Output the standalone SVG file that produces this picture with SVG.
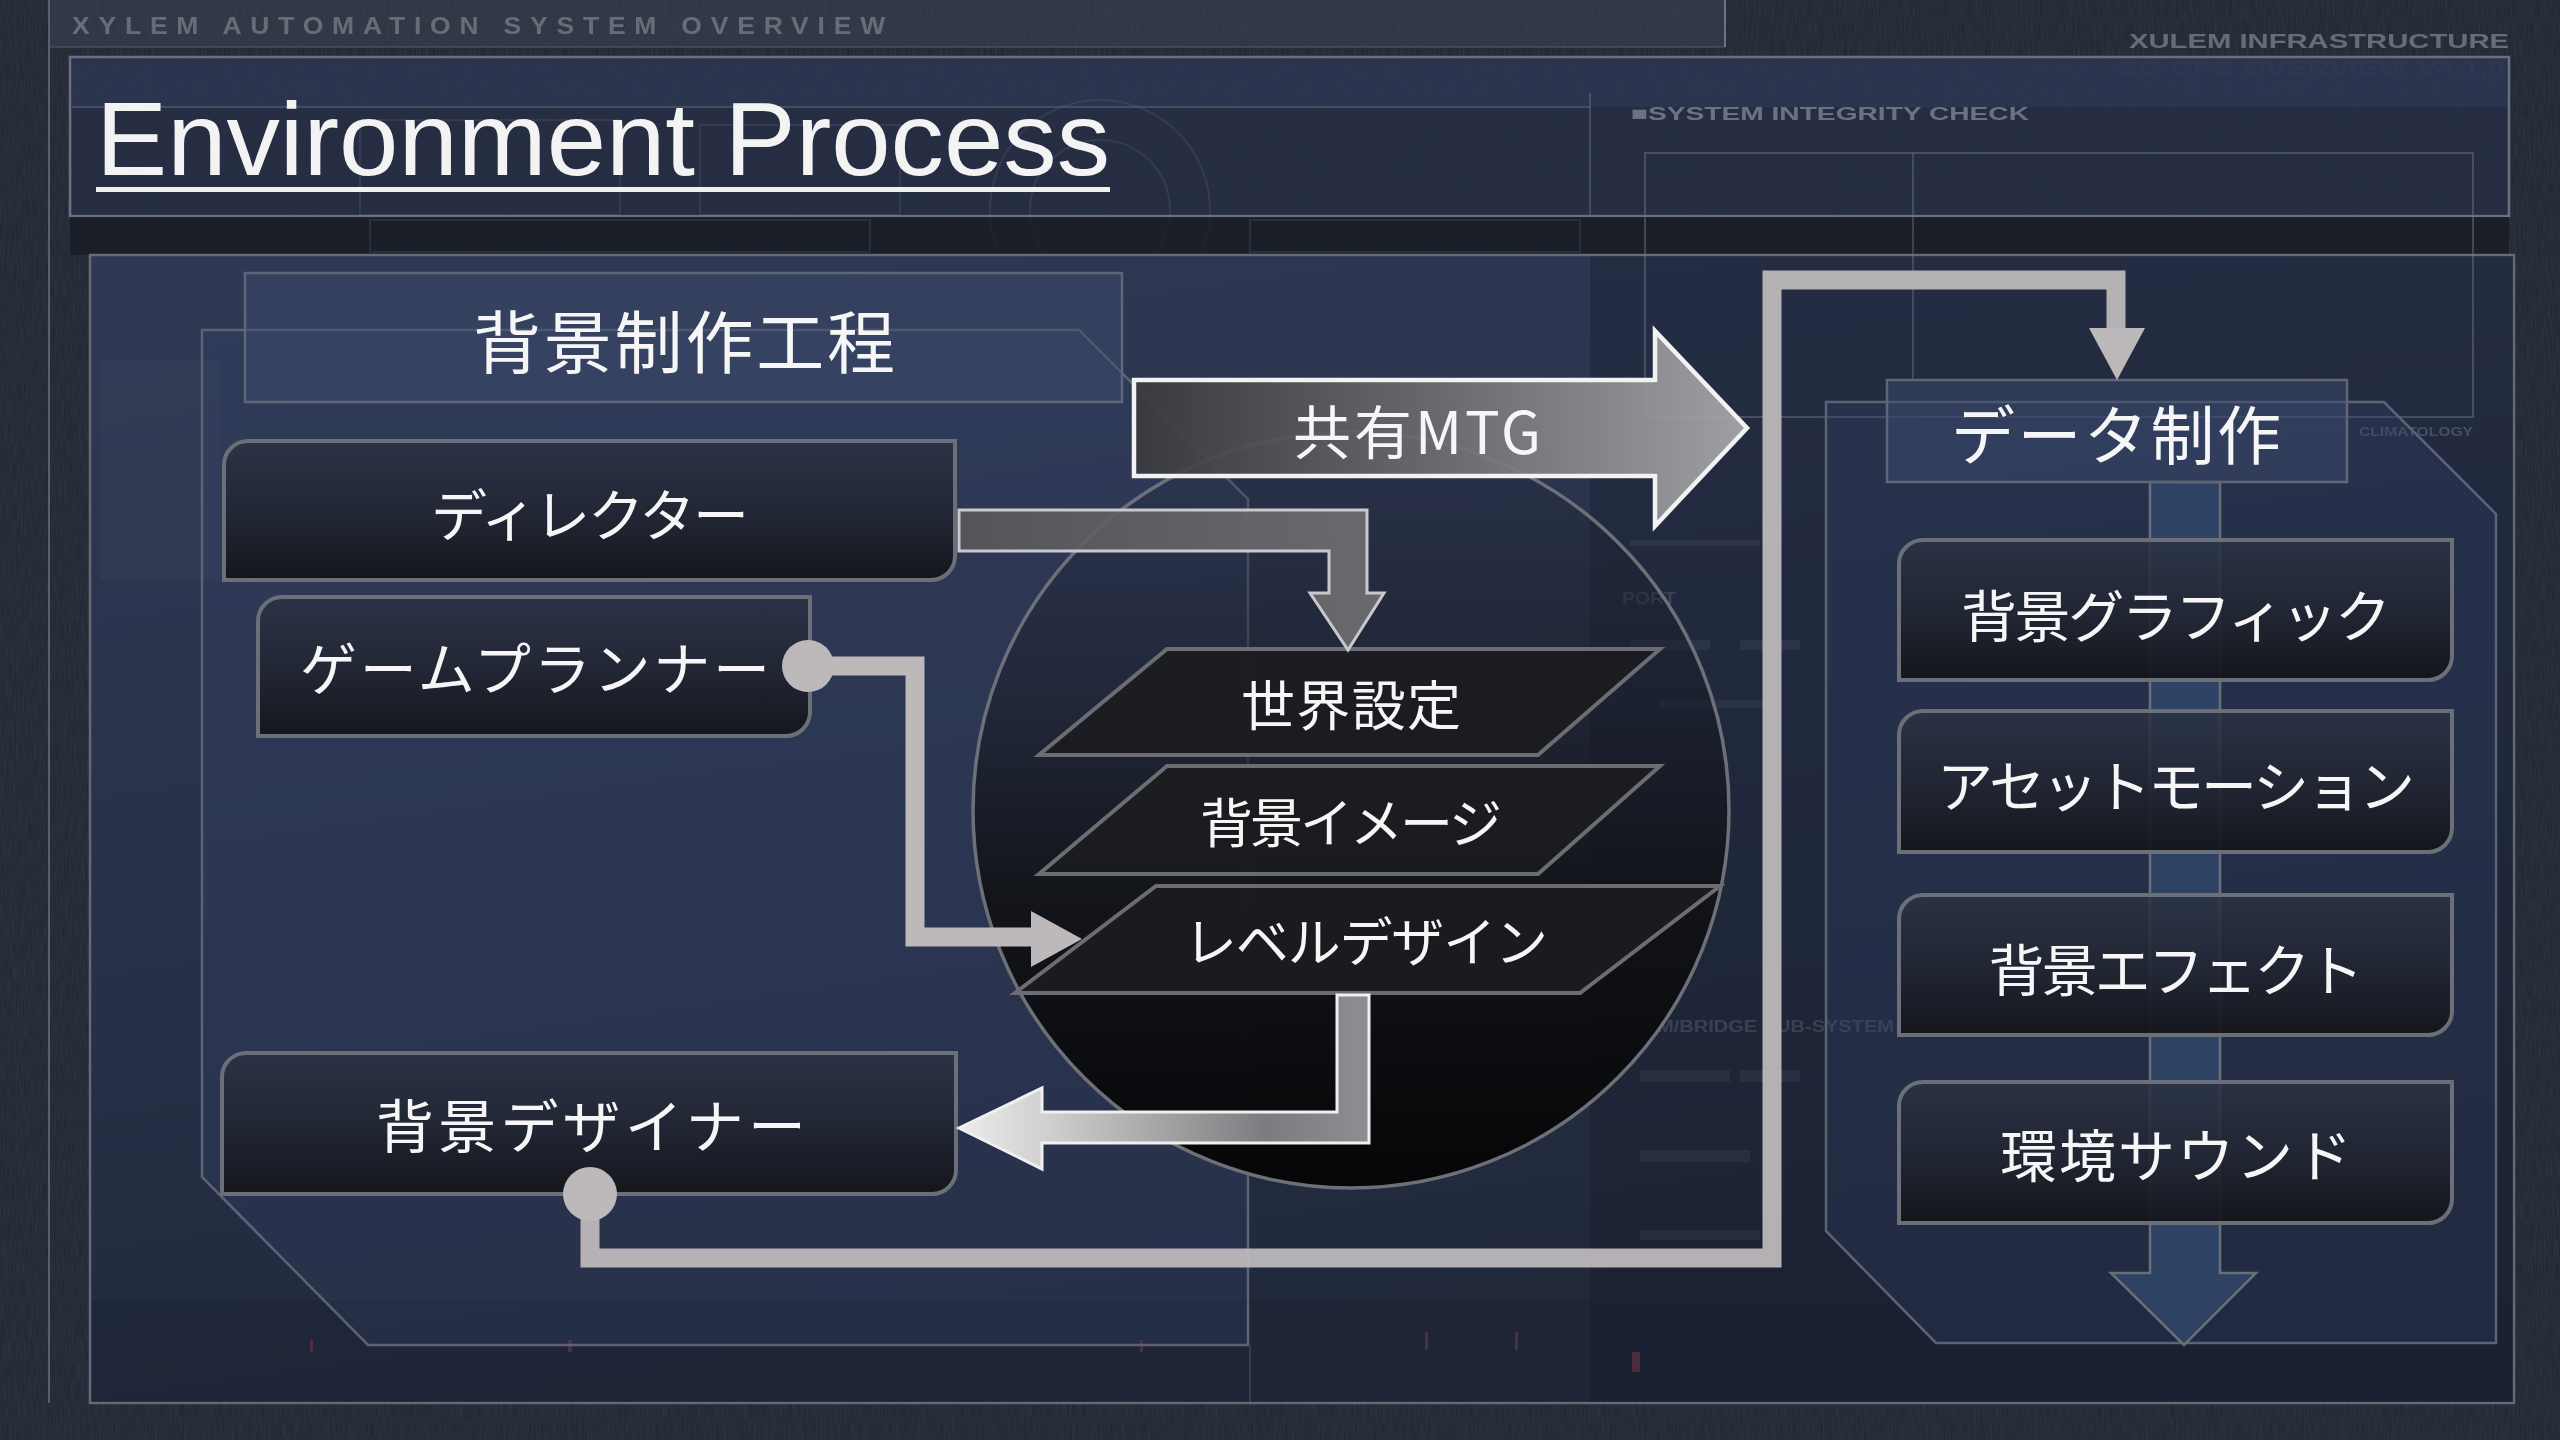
<svg xmlns="http://www.w3.org/2000/svg" width="2560" height="1440" viewBox="0 0 2560 1440">
<defs>
<style>
.jp{font-family:"Noto Sans CJK JP","Noto Sans",sans-serif;fill:#f6f6f6;text-anchor:middle;dominant-baseline:central}
.faint{font-family:"Liberation Sans","DejaVu Sans",sans-serif;font-weight:bold;fill:#9aa2ae}
.box{fill:url(#boxGrad);stroke:#6b6f77;stroke-width:4}
.hdr{fill:#3c4a6c;fill-opacity:0.5;stroke:#5f6677;stroke-width:2.5}
.grp{fill:#36446a;fill-opacity:0.28;stroke:#5c6474;stroke-width:2.5}
.para{fill:#1b1c20;fill-opacity:0.92;stroke:#6c6d72;stroke-width:4}
.lite{fill:none;stroke:#bdb8ba;stroke-width:19}
.litef{fill:#bdb8ba}
.deco{fill:none;stroke:#7f8aa0;stroke-opacity:0.16;stroke-width:2}
</style>
<linearGradient id="boxGrad" x1="0" y1="0" x2="0" y2="1">
<stop offset="0" stop-color="#2b3244" stop-opacity="0.86"/>
<stop offset="0.55" stop-color="#202430" stop-opacity="0.9"/>
<stop offset="1" stop-color="#131418" stop-opacity="0.94"/>
</linearGradient>
<linearGradient id="panelGrad" x1="0" y1="0" x2="0.3" y2="1">
<stop offset="0" stop-color="#2f3954"/>
<stop offset="0.6" stop-color="#283048"/>
<stop offset="1" stop-color="#20283a"/>
</linearGradient>
<linearGradient id="circGrad" x1="0" y1="0" x2="0" y2="1">
<stop offset="0" stop-color="#1a1f2b" stop-opacity="0.1"/>
<stop offset="0.35" stop-color="#181b24" stop-opacity="0.55"/>
<stop offset="0.6" stop-color="#111216" stop-opacity="0.9"/>
<stop offset="1" stop-color="#060607" stop-opacity="1"/>
</linearGradient>
<linearGradient id="mtgGrad" x1="1134" y1="0" x2="1747" y2="0" gradientUnits="userSpaceOnUse">
<stop offset="0" stop-color="#3a3a3e"/>
<stop offset="0.5" stop-color="#6e6e72"/>
<stop offset="1" stop-color="#a9a9ac"/>
</linearGradient>
<linearGradient id="dirGrad" x1="959" y1="0" x2="1384" y2="0" gradientUnits="userSpaceOnUse">
<stop offset="0" stop-color="#57575b"/>
<stop offset="1" stop-color="#6f6f73"/>
</linearGradient>
<linearGradient id="lvlGrad" x1="959" y1="0" x2="1369" y2="0" gradientUnits="userSpaceOnUse">
<stop offset="0" stop-color="#ececec"/>
<stop offset="0.22" stop-color="#cfcfcf"/>
<stop offset="0.75" stop-color="#7c7c80"/>
<stop offset="1" stop-color="#8e8e92"/>
</linearGradient>
<filter id="noise" x="0" y="0" width="100%" height="100%">
<feTurbulence type="fractalNoise" baseFrequency="0.9 0.05" numOctaves="2" seed="3"/>
<feColorMatrix type="matrix" values="0 0 0 0 0.6  0 0 0 0 0.65  0 0 0 0 0.72  0 0 0 0.55 0"/>
</filter>
</defs>

<g id="background">
<rect x="0" y="0" width="2560" height="1440" fill="#1f2530"/>
<rect x="0" y="0" width="2560" height="1440" filter="url(#noise)" opacity="0.18"/>
<rect x="49" y="0" width="1676" height="47" fill="#3a4352" fill-opacity="0.55"/>
<line x1="49" y1="0" x2="49" y2="1403" stroke="#56606e" stroke-width="2"/>
<line x1="1725" y1="0" x2="1725" y2="47" stroke="#6a7380" stroke-width="2"/>
<line x1="49" y1="47" x2="1725" y2="47" stroke="#56606e" stroke-width="1.5" stroke-opacity="0.6"/>
<text class="faint" x="72" y="34" font-size="24" letter-spacing="8" textLength="822" lengthAdjust="spacingAndGlyphs" opacity="0.5">XYLEM AUTOMATION SYSTEM OVERVIEW</text>
<text class="faint" x="2129" y="48" font-size="21" textLength="380" lengthAdjust="spacingAndGlyphs" opacity="0.55">XULEM INFRASTRUCTURE</text>
<text class="faint" x="2117" y="75" font-size="20" textLength="388" lengthAdjust="spacingAndGlyphs" opacity="0.18">SC-CPS OVERVIEW V4.1.0</text>
<!-- title panel -->
<rect x="70" y="57" width="2439" height="159" fill="#2d3652" fill-opacity="0.85" stroke="#6a7080" stroke-width="2.5"/>
<rect x="72" y="107" width="2435" height="108" fill="#1c2232" fill-opacity="0.35"/>
<line x1="72" y1="107" x2="1590" y2="107" stroke="#6a7080" stroke-opacity="0.45" stroke-width="2"/>
<line x1="1590" y1="93" x2="1590" y2="216" stroke="#6a7080" stroke-opacity="0.45" stroke-width="2"/>
<circle cx="1100" cy="210" r="110" class="deco"/>
<circle cx="1100" cy="210" r="70" class="deco"/>
<rect x="360" y="120" width="260" height="95" class="deco"/>
<rect x="700" y="125" width="200" height="90" class="deco"/>
<text class="faint" x="1631" y="120" font-size="19" textLength="398" lengthAdjust="spacingAndGlyphs" opacity="0.6">■SYSTEM INTEGRITY CHECK</text>
<!-- strip between -->
<rect x="70" y="217" width="2439" height="38" fill="#171b23" fill-opacity="0.75"/>
<rect x="370" y="220" width="500" height="32" class="deco"/>
<rect x="1250" y="220" width="330" height="32" class="deco"/>
<!-- main panel -->
<rect x="90" y="255" width="2424" height="1148" fill="url(#panelGrad)" stroke="#636a78" stroke-width="2.5"/>
<rect x="1590" y="256" width="923" height="1146" fill="#121826" fill-opacity="0.3"/>
<rect x="92" y="1300" width="2420" height="102" fill="#1a2030" fill-opacity="0.35"/>
<rect x="1645" y="153" width="828" height="264" fill="none" stroke="#737b89" stroke-opacity="0.45" stroke-width="2"/>
<line x1="1913" y1="153" x2="1913" y2="380" stroke="#737b89" stroke-opacity="0.4" stroke-width="2"/>
<text class="faint" x="2359" y="436" font-size="12" textLength="114" lengthAdjust="spacingAndGlyphs" opacity="0.3">CLIMATOLOGY</text>
<text class="faint" x="1622" y="604" font-size="17" textLength="54" lengthAdjust="spacingAndGlyphs" opacity="0.2">PORT</text>
<text class="faint" x="1657" y="1032" font-size="16" textLength="237" lengthAdjust="spacingAndGlyphs" opacity="0.22">M/BRIDGE SUB-SYSTEM</text>
<g fill="#8a93a6" fill-opacity="0.1">
<rect x="1630" y="540" width="130" height="6"/>
<rect x="1630" y="640" width="80" height="10"/>
<rect x="1740" y="640" width="60" height="10"/>
<rect x="1660" y="700" width="120" height="8"/>
<rect x="1640" y="1070" width="90" height="12"/>
<rect x="1740" y="1070" width="60" height="12"/>
<rect x="1640" y="1150" width="110" height="12"/>
<rect x="1640" y="1230" width="120" height="10"/>
</g>
<rect x="100" y="360" width="120" height="220" fill="#8a93a6" fill-opacity="0.05"/>
<g fill="#b0405a" fill-opacity="0.35">
<rect x="310" y="1340" width="3" height="12"/>
<rect x="568" y="1340" width="4" height="12"/>
<rect x="1140" y="1340" width="3" height="12"/>
<rect x="1425" y="1332" width="3" height="18"/>
<rect x="1515" y="1332" width="3" height="18"/>
<rect x="1632" y="1352" width="8" height="20"/>
</g>
<line x1="1250" y1="1345" x2="1250" y2="1403" stroke="#7a8290" stroke-opacity="0.25" stroke-width="2"/>
</g>

<g id="title">
<text x="96" y="175" font-family="'Liberation Sans','Arial',sans-serif" font-size="104" fill="#f3f3f3" textLength="1014" lengthAdjust="spacingAndGlyphs">Environment Process</text>
<rect x="96" y="187" width="1014" height="5" fill="#f0f0f0"/>
</g>

<g id="group-left">
<polygon class="grp" points="202,330 1079,330 1248,499 1248,1345 368,1345 202,1177"/>
</g>
<g id="group-right">
<polygon class="grp" points="1826,402 2384,402 2496,514 2496,1343 1936,1343 1826,1231"/>
<path d="M2150,482 H2220 V1273 H2256 L2184,1345 L2111,1273 H2150 Z" fill="#30476a" fill-opacity="0.85" stroke="#6a707a" stroke-width="2.5"/>
</g>

<g id="node-header-left">
<rect class="hdr" x="245" y="273" width="877" height="129"/>
<text class="jp" x="684" y="338" font-size="68" textLength="422" lengthAdjust="spacing">背景制作工程</text>
</g>
<g id="node-header-right">
<rect class="hdr" x="1887" y="380" width="460" height="102"/>
<text class="jp" x="2116" y="431" font-size="64" textLength="330" lengthAdjust="spacing">データ制作</text>
</g>

<g id="node-director">
<path class="box" d="M248,441 H955 V556 A24,24 0 0 1 931,580 H224 V465 A24,24 0 0 1 248,441 Z"/>
<text class="jp" x="590" y="511" font-size="56" textLength="318" lengthAdjust="spacing">ディレクター</text>
</g>
<g id="node-planner">
<path class="box" d="M282,597 H810 V712 A24,24 0 0 1 786,736 H258 V621 A24,24 0 0 1 282,597 Z"/>
<text class="jp" x="535" y="665" font-size="57" textLength="470" lengthAdjust="spacing">ゲームプランナー</text>
</g>
<g id="node-bg-designer">
<path class="box" d="M246,1053 H956 V1170 A24,24 0 0 1 932,1194 H222 V1077 A24,24 0 0 1 246,1053 Z"/>
<text class="jp" x="591" y="1123" font-size="58" textLength="430" lengthAdjust="spacing">背景デザイナー</text>
</g>

<g id="node-sphere">
<circle cx="1351" cy="810" r="378" fill="url(#circGrad)" stroke="#6d7079" stroke-width="3.5"/>
</g>
<g id="node-world">
<polygon class="para" points="1167,649 1660,649 1538,755 1039,755"/>
<text class="jp" x="1351" y="702" font-size="54" textLength="220" lengthAdjust="spacing">世界設定</text>
</g>
<g id="node-image">
<polygon class="para" points="1167,766 1660,766 1538,874 1039,874"/>
<text class="jp" x="1351" y="820" font-size="53" textLength="302" lengthAdjust="spacing">背景イメージ</text>
</g>
<g id="node-level">
<polygon class="para" points="1156,886 1720,886 1580,993 1015,993"/>
<text class="jp" x="1366" y="939" font-size="53" textLength="364" lengthAdjust="spacing">レベルデザイン</text>
</g>

<g id="node-graphic">
<path class="box" d="M1923,540 H2452 V656 A24,24 0 0 1 2428,680 H1899 V564 A24,24 0 0 1 1923,540 Z"/>
<text class="jp" x="2176" y="612" font-size="56" textLength="430" lengthAdjust="spacing">背景グラフィック</text>
</g>
<g id="node-motion">
<path class="box" d="M1923,711 H2452 V828 A24,24 0 0 1 2428,852 H1899 V735 A24,24 0 0 1 1923,711 Z"/>
<text class="jp" x="2176" y="782" font-size="56" textLength="478" lengthAdjust="spacing">アセットモーション</text>
</g>
<g id="node-effect">
<path class="box" d="M1923,895 H2452 V1011 A24,24 0 0 1 2428,1035 H1899 V919 A24,24 0 0 1 1923,895 Z"/>
<text class="jp" x="2176" y="966" font-size="56" textLength="375" lengthAdjust="spacing">背景エフェクト</text>
</g>
<g id="node-sound">
<path class="box" d="M1923,1082 H2452 V1199 A24,24 0 0 1 2428,1223 H1899 V1106 A24,24 0 0 1 1923,1082 Z"/>
<text class="jp" x="2176" y="1152" font-size="57" textLength="352" lengthAdjust="spacing">環境サウンド</text>
</g>

<g id="connectors">
<g id="edge-mtg">
<path d="M1134,380 H1655 V331 L1747,428 L1655,526 V476 H1134 Z" fill="url(#mtgGrad)" fill-opacity="0.92" stroke="#f2f2f2" stroke-width="4.5" stroke-linejoin="miter"/>
<text class="jp" x="1417" y="429" font-size="58" textLength="248" lengthAdjust="spacing">共有MTG</text>
</g>
<path id="edge-director" d="M959,510 H1367 V593 H1384 L1348,650 L1310,593 H1329 V551 H959 Z" fill="url(#dirGrad)" fill-opacity="0.92" stroke="#c9c9cd" stroke-width="3"/>
<g id="edge-planner">
<path class="lite" d="M808,666 H915 V937 H1040"/>
<polygon class="litef" points="1031,911 1082,939 1031,967"/>
<circle class="litef" cx="808" cy="666" r="26"/>
</g>
<path id="edge-level" d="M1369,995 V1143 H1042 V1169 L959,1128 L1042,1088 V1112 H1337 V995 Z" fill="url(#lvlGrad)" stroke="#f0f0f0" stroke-width="3"/>
<g id="edge-designer">
<path class="lite" d="M590,1194 V1258 H1772 V280 H2116 V334" stroke-opacity="0.95"/>
<polygon class="litef" points="2089,328 2145,328 2117,380"/>
<circle class="litef" cx="590" cy="1194" r="27"/>
</g>
</g>
</svg>
